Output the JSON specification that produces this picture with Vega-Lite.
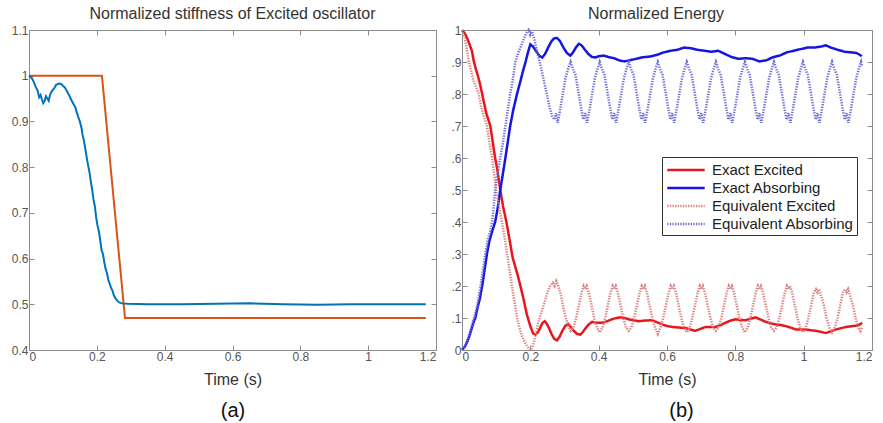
{
"$schema": "https://vega.github.io/schema/vega-lite/v6.json",
"background": "white",
"padding": {"left": 10, "top": 5, "right": 5, "bottom": 5},
"bounds": "flush",
"spacing": 26,
"config": {
  "font": "Liberation Sans",
  "view": {"stroke": "#8c8c8c", "strokeWidth": 1},
  "axis": {"grid": false, "domainColor": "#8c8c8c", "tickColor": "#8c8c8c", "tickSize": -5, "labelPadding": 6, "labelColor": "#555555", "labelFontSize": 12, "titleColor": "#333333", "titleFontWeight": "normal", "titleFontSize": 16},
  "title": {"fontWeight": "normal", "fontSize": 16, "color": "#333333"}
},
"datasets": {
"stiff": [
{"s":"target","t":0,"v":1},{"s":"target","t":0.215,"v":1},{"s":"target","t":0.283,"v":0.47},{"s":"target","t":1.17,"v":0.47},
{"s":"actual","t":0,"v":1},{"s":"actual","t":0.008,"v":0.995},{"s":"actual","t":0.015,"v":0.985},{"s":"actual","t":0.02,"v":0.975},{"s":"actual","t":0.025,"v":0.968},{"s":"actual","t":0.03,"v":0.953},{"s":"actual","t":0.034,"v":0.958},{"s":"actual","t":0.038,"v":0.948},{"s":"actual","t":0.042,"v":0.94},{"s":"actual","t":0.046,"v":0.945},{"s":"actual","t":0.05,"v":0.955},{"s":"actual","t":0.054,"v":0.95},{"s":"actual","t":0.058,"v":0.945},{"s":"actual","t":0.062,"v":0.958},{"s":"actual","t":0.068,"v":0.967},{"s":"actual","t":0.074,"v":0.972},{"s":"actual","t":0.08,"v":0.98},{"s":"actual","t":0.088,"v":0.983},{"s":"actual","t":0.095,"v":0.982},{"s":"actual","t":0.1,"v":0.978},{"s":"actual","t":0.106,"v":0.974},{"s":"actual","t":0.112,"v":0.966},{"s":"actual","t":0.118,"v":0.958},{"s":"actual","t":0.124,"v":0.948},{"s":"actual","t":0.13,"v":0.94},{"s":"actual","t":0.136,"v":0.932},{"s":"actual","t":0.14,"v":0.922},{"s":"actual","t":0.145,"v":0.91},{"s":"actual","t":0.15,"v":0.9},{"s":"actual","t":0.155,"v":0.885},{"s":"actual","t":0.158,"v":0.87},{"s":"actual","t":0.162,"v":0.858},{"s":"actual","t":0.166,"v":0.84},{"s":"actual","t":0.17,"v":0.822},{"s":"actual","t":0.174,"v":0.805},{"s":"actual","t":0.178,"v":0.79},{"s":"actual","t":0.182,"v":0.77},{"s":"actual","t":0.186,"v":0.752},{"s":"actual","t":0.19,"v":0.73},{"s":"actual","t":0.194,"v":0.715},{"s":"actual","t":0.198,"v":0.69},{"s":"actual","t":0.202,"v":0.672},{"s":"actual","t":0.206,"v":0.66},{"s":"actual","t":0.21,"v":0.64},{"s":"actual","t":0.214,"v":0.618},{"s":"actual","t":0.218,"v":0.61},{"s":"actual","t":0.222,"v":0.592},{"s":"actual","t":0.226,"v":0.577},{"s":"actual","t":0.23,"v":0.568},{"s":"actual","t":0.234,"v":0.553},{"s":"actual","t":0.238,"v":0.545},{"s":"actual","t":0.242,"v":0.536},{"s":"actual","t":0.246,"v":0.53},{"s":"actual","t":0.25,"v":0.52},{"s":"actual","t":0.255,"v":0.513},{"s":"actual","t":0.26,"v":0.508},{"s":"actual","t":0.266,"v":0.504},{"s":"actual","t":0.275,"v":0.502},{"s":"actual","t":0.29,"v":0.501},{"s":"actual","t":0.35,"v":0.5},{"s":"actual","t":0.45,"v":0.5},{"s":"actual","t":0.55,"v":0.501},{"s":"actual","t":0.65,"v":0.502},{"s":"actual","t":0.75,"v":0.5},{"s":"actual","t":0.85,"v":0.499},{"s":"actual","t":0.95,"v":0.5},{"s":"actual","t":1.05,"v":0.5},{"s":"actual","t":1.17,"v":0.5}
],
"energy": [
{"s":"Exact Excited","t":0,"v":1},{"s":"Exact Excited","t":0.008,"v":0.99},{"s":"Exact Excited","t":0.015,"v":0.975},{"s":"Exact Excited","t":0.022,"v":0.955},{"s":"Exact Excited","t":0.029,"v":0.935},{"s":"Exact Excited","t":0.034,"v":0.905},{"s":"Exact Excited","t":0.04,"v":0.88},{"s":"Exact Excited","t":0.047,"v":0.855},{"s":"Exact Excited","t":0.053,"v":0.83},{"s":"Exact Excited","t":0.059,"v":0.8},{"s":"Exact Excited","t":0.065,"v":0.77},{"s":"Exact Excited","t":0.071,"v":0.74},{"s":"Exact Excited","t":0.077,"v":0.72},{"s":"Exact Excited","t":0.083,"v":0.7},{"s":"Exact Excited","t":0.09,"v":0.65},{"s":"Exact Excited","t":0.097,"v":0.6},{"s":"Exact Excited","t":0.104,"v":0.56},{"s":"Exact Excited","t":0.112,"v":0.5},{"s":"Exact Excited","t":0.12,"v":0.45},{"s":"Exact Excited","t":0.13,"v":0.4},{"s":"Exact Excited","t":0.14,"v":0.34},{"s":"Exact Excited","t":0.148,"v":0.29},{"s":"Exact Excited","t":0.156,"v":0.26},{"s":"Exact Excited","t":0.164,"v":0.23},{"s":"Exact Excited","t":0.171,"v":0.2},{"s":"Exact Excited","t":0.18,"v":0.16},{"s":"Exact Excited","t":0.19,"v":0.11},{"s":"Exact Excited","t":0.2,"v":0.075},{"s":"Exact Excited","t":0.208,"v":0.052},{"s":"Exact Excited","t":0.215,"v":0.048},{"s":"Exact Excited","t":0.222,"v":0.055},{"s":"Exact Excited","t":0.229,"v":0.07},{"s":"Exact Excited","t":0.236,"v":0.085},{"s":"Exact Excited","t":0.242,"v":0.09},{"s":"Exact Excited","t":0.248,"v":0.082},{"s":"Exact Excited","t":0.254,"v":0.07},{"s":"Exact Excited","t":0.262,"v":0.05},{"s":"Exact Excited","t":0.27,"v":0.035},{"s":"Exact Excited","t":0.278,"v":0.03},{"s":"Exact Excited","t":0.285,"v":0.04},{"s":"Exact Excited","t":0.293,"v":0.058},{"s":"Exact Excited","t":0.302,"v":0.075},{"s":"Exact Excited","t":0.31,"v":0.082},{"s":"Exact Excited","t":0.318,"v":0.072},{"s":"Exact Excited","t":0.327,"v":0.06},{"s":"Exact Excited","t":0.337,"v":0.05},{"s":"Exact Excited","t":0.347,"v":0.048},{"s":"Exact Excited","t":0.355,"v":0.058},{"s":"Exact Excited","t":0.363,"v":0.07},{"s":"Exact Excited","t":0.371,"v":0.08},{"s":"Exact Excited","t":0.381,"v":0.088},{"s":"Exact Excited","t":0.395,"v":0.085},{"s":"Exact Excited","t":0.41,"v":0.085},{"s":"Exact Excited","t":0.425,"v":0.09},{"s":"Exact Excited","t":0.439,"v":0.096},{"s":"Exact Excited","t":0.452,"v":0.1},{"s":"Exact Excited","t":0.464,"v":0.102},{"s":"Exact Excited","t":0.476,"v":0.1},{"s":"Exact Excited","t":0.488,"v":0.096},{"s":"Exact Excited","t":0.502,"v":0.093},{"s":"Exact Excited","t":0.517,"v":0.09},{"s":"Exact Excited","t":0.535,"v":0.092},{"s":"Exact Excited","t":0.556,"v":0.093},{"s":"Exact Excited","t":0.57,"v":0.087},{"s":"Exact Excited","t":0.586,"v":0.08},{"s":"Exact Excited","t":0.6,"v":0.075},{"s":"Exact Excited","t":0.615,"v":0.072},{"s":"Exact Excited","t":0.635,"v":0.07},{"s":"Exact Excited","t":0.654,"v":0.069},{"s":"Exact Excited","t":0.668,"v":0.064},{"s":"Exact Excited","t":0.683,"v":0.06},{"s":"Exact Excited","t":0.698,"v":0.066},{"s":"Exact Excited","t":0.713,"v":0.072},{"s":"Exact Excited","t":0.728,"v":0.072},{"s":"Exact Excited","t":0.742,"v":0.072},{"s":"Exact Excited","t":0.757,"v":0.078},{"s":"Exact Excited","t":0.771,"v":0.085},{"s":"Exact Excited","t":0.786,"v":0.092},{"s":"Exact Excited","t":0.801,"v":0.096},{"s":"Exact Excited","t":0.815,"v":0.094},{"s":"Exact Excited","t":0.83,"v":0.093},{"s":"Exact Excited","t":0.845,"v":0.098},{"s":"Exact Excited","t":0.859,"v":0.102},{"s":"Exact Excited","t":0.874,"v":0.095},{"s":"Exact Excited","t":0.889,"v":0.088},{"s":"Exact Excited","t":0.904,"v":0.083},{"s":"Exact Excited","t":0.918,"v":0.08},{"s":"Exact Excited","t":0.933,"v":0.078},{"s":"Exact Excited","t":0.947,"v":0.075},{"s":"Exact Excited","t":0.962,"v":0.07},{"s":"Exact Excited","t":0.977,"v":0.064},{"s":"Exact Excited","t":0.992,"v":0.064},{"s":"Exact Excited","t":1.006,"v":0.064},{"s":"Exact Excited","t":1.02,"v":0.062},{"s":"Exact Excited","t":1.035,"v":0.06},{"s":"Exact Excited","t":1.05,"v":0.057},{"s":"Exact Excited","t":1.064,"v":0.053},{"s":"Exact Excited","t":1.079,"v":0.058},{"s":"Exact Excited","t":1.094,"v":0.064},{"s":"Exact Excited","t":1.108,"v":0.068},{"s":"Exact Excited","t":1.123,"v":0.072},{"s":"Exact Excited","t":1.138,"v":0.074},{"s":"Exact Excited","t":1.152,"v":0.076},{"s":"Exact Excited","t":1.162,"v":0.078},{"s":"Exact Excited","t":1.171,"v":0.085},
{"s":"Exact Absorbing","t":0,"v":0},{"s":"Exact Absorbing","t":0.008,"v":0.01},{"s":"Exact Absorbing","t":0.015,"v":0.025},{"s":"Exact Absorbing","t":0.022,"v":0.045},{"s":"Exact Absorbing","t":0.029,"v":0.07},{"s":"Exact Absorbing","t":0.035,"v":0.09},{"s":"Exact Absorbing","t":0.039,"v":0.1},{"s":"Exact Absorbing","t":0.045,"v":0.13},{"s":"Exact Absorbing","t":0.052,"v":0.16},{"s":"Exact Absorbing","t":0.059,"v":0.2},{"s":"Exact Absorbing","t":0.066,"v":0.25},{"s":"Exact Absorbing","t":0.073,"v":0.3},{"s":"Exact Absorbing","t":0.08,"v":0.34},{"s":"Exact Absorbing","t":0.088,"v":0.37},{"s":"Exact Absorbing","t":0.097,"v":0.4},{"s":"Exact Absorbing","t":0.104,"v":0.44},{"s":"Exact Absorbing","t":0.112,"v":0.5},{"s":"Exact Absorbing","t":0.118,"v":0.54},{"s":"Exact Absorbing","t":0.127,"v":0.6},{"s":"Exact Absorbing","t":0.134,"v":0.65},{"s":"Exact Absorbing","t":0.141,"v":0.7},{"s":"Exact Absorbing","t":0.15,"v":0.75},{"s":"Exact Absorbing","t":0.161,"v":0.8},{"s":"Exact Absorbing","t":0.171,"v":0.84},{"s":"Exact Absorbing","t":0.178,"v":0.87},{"s":"Exact Absorbing","t":0.186,"v":0.9},{"s":"Exact Absorbing","t":0.193,"v":0.93},{"s":"Exact Absorbing","t":0.2,"v":0.955},{"s":"Exact Absorbing","t":0.208,"v":0.948},{"s":"Exact Absorbing","t":0.218,"v":0.932},{"s":"Exact Absorbing","t":0.226,"v":0.92},{"s":"Exact Absorbing","t":0.235,"v":0.914},{"s":"Exact Absorbing","t":0.243,"v":0.925},{"s":"Exact Absorbing","t":0.252,"v":0.945},{"s":"Exact Absorbing","t":0.262,"v":0.965},{"s":"Exact Absorbing","t":0.27,"v":0.974},{"s":"Exact Absorbing","t":0.278,"v":0.975},{"s":"Exact Absorbing","t":0.287,"v":0.965},{"s":"Exact Absorbing","t":0.297,"v":0.945},{"s":"Exact Absorbing","t":0.307,"v":0.928},{"s":"Exact Absorbing","t":0.317,"v":0.92},{"s":"Exact Absorbing","t":0.325,"v":0.93},{"s":"Exact Absorbing","t":0.333,"v":0.945},{"s":"Exact Absorbing","t":0.342,"v":0.957},{"s":"Exact Absorbing","t":0.35,"v":0.952},{"s":"Exact Absorbing","t":0.36,"v":0.938},{"s":"Exact Absorbing","t":0.37,"v":0.925},{"s":"Exact Absorbing","t":0.38,"v":0.916},{"s":"Exact Absorbing","t":0.39,"v":0.914},{"s":"Exact Absorbing","t":0.4,"v":0.918},{"s":"Exact Absorbing","t":0.415,"v":0.92},{"s":"Exact Absorbing","t":0.43,"v":0.915},{"s":"Exact Absorbing","t":0.445,"v":0.912},{"s":"Exact Absorbing","t":0.46,"v":0.905},{"s":"Exact Absorbing","t":0.475,"v":0.902},{"s":"Exact Absorbing","t":0.49,"v":0.905},{"s":"Exact Absorbing","t":0.51,"v":0.91},{"s":"Exact Absorbing","t":0.53,"v":0.915},{"s":"Exact Absorbing","t":0.55,"v":0.917},{"s":"Exact Absorbing","t":0.57,"v":0.922},{"s":"Exact Absorbing","t":0.59,"v":0.93},{"s":"Exact Absorbing","t":0.61,"v":0.935},{"s":"Exact Absorbing","t":0.63,"v":0.938},{"s":"Exact Absorbing","t":0.65,"v":0.945},{"s":"Exact Absorbing","t":0.67,"v":0.943},{"s":"Exact Absorbing","t":0.69,"v":0.938},{"s":"Exact Absorbing","t":0.71,"v":0.935},{"s":"Exact Absorbing","t":0.73,"v":0.932},{"s":"Exact Absorbing","t":0.75,"v":0.935},{"s":"Exact Absorbing","t":0.77,"v":0.925},{"s":"Exact Absorbing","t":0.79,"v":0.915},{"s":"Exact Absorbing","t":0.81,"v":0.91},{"s":"Exact Absorbing","t":0.83,"v":0.912},{"s":"Exact Absorbing","t":0.85,"v":0.91},{"s":"Exact Absorbing","t":0.87,"v":0.902},{"s":"Exact Absorbing","t":0.89,"v":0.905},{"s":"Exact Absorbing","t":0.91,"v":0.915},{"s":"Exact Absorbing","t":0.93,"v":0.92},{"s":"Exact Absorbing","t":0.95,"v":0.93},{"s":"Exact Absorbing","t":0.97,"v":0.935},{"s":"Exact Absorbing","t":0.99,"v":0.94},{"s":"Exact Absorbing","t":1.01,"v":0.945},{"s":"Exact Absorbing","t":1.03,"v":0.945},{"s":"Exact Absorbing","t":1.05,"v":0.948},{"s":"Exact Absorbing","t":1.065,"v":0.952},{"s":"Exact Absorbing","t":1.08,"v":0.945},{"s":"Exact Absorbing","t":1.1,"v":0.938},{"s":"Exact Absorbing","t":1.12,"v":0.932},{"s":"Exact Absorbing","t":1.14,"v":0.93},{"s":"Exact Absorbing","t":1.155,"v":0.928},{"s":"Exact Absorbing","t":1.165,"v":0.922},{"s":"Exact Absorbing","t":1.17,"v":0.918},
{"s":"Equivalent Excited","t":0,"v":1},{"s":"Equivalent Excited","t":0.008,"v":0.975},{"s":"Equivalent Excited","t":0.014,"v":0.94},{"s":"Equivalent Excited","t":0.02,"v":0.9},{"s":"Equivalent Excited","t":0.027,"v":0.87},{"s":"Equivalent Excited","t":0.034,"v":0.84},{"s":"Equivalent Excited","t":0.042,"v":0.82},{"s":"Equivalent Excited","t":0.049,"v":0.8},{"s":"Equivalent Excited","t":0.056,"v":0.76},{"s":"Equivalent Excited","t":0.064,"v":0.73},{"s":"Equivalent Excited","t":0.073,"v":0.7},{"s":"Equivalent Excited","t":0.08,"v":0.65},{"s":"Equivalent Excited","t":0.088,"v":0.6},{"s":"Equivalent Excited","t":0.094,"v":0.55},{"s":"Equivalent Excited","t":0.1,"v":0.5},{"s":"Equivalent Excited","t":0.108,"v":0.45},{"s":"Equivalent Excited","t":0.117,"v":0.4},{"s":"Equivalent Excited","t":0.125,"v":0.35},{"s":"Equivalent Excited","t":0.132,"v":0.3},{"s":"Equivalent Excited","t":0.139,"v":0.25},{"s":"Equivalent Excited","t":0.146,"v":0.2},{"s":"Equivalent Excited","t":0.154,"v":0.15},{"s":"Equivalent Excited","t":0.161,"v":0.1},{"s":"Equivalent Excited","t":0.168,"v":0.07},{"s":"Equivalent Excited","t":0.175,"v":0.045},{"s":"Equivalent Excited","t":0.186,"v":0.02},{"s":"Equivalent Excited","t":0.195,"v":0.005},{"s":"Equivalent Excited","t":0.2,"v":0},{"s":"Equivalent Excited","t":0.206,"v":0.01},{"s":"Equivalent Excited","t":0.212,"v":0.03},{"s":"Equivalent Excited","t":0.218,"v":0.06},{"s":"Equivalent Excited","t":0.224,"v":0.09},{"s":"Equivalent Excited","t":0.23,"v":0.11},{"s":"Equivalent Excited","t":0.236,"v":0.13},{"s":"Equivalent Excited","t":0.242,"v":0.15},{"s":"Equivalent Excited","t":0.25,"v":0.18},{"s":"Equivalent Excited","t":0.258,"v":0.2},{"s":"Equivalent Excited","t":0.266,"v":0.21},{"s":"Equivalent Excited","t":0.271,"v":0.2},{"s":"Equivalent Excited","t":0.276,"v":0.215},{"s":"Equivalent Excited","t":0.282,"v":0.2},{"s":"Equivalent Excited","t":0.29,"v":0.17},{"s":"Equivalent Excited","t":0.297,"v":0.13},{"s":"Equivalent Excited","t":0.304,"v":0.1},{"s":"Equivalent Excited","t":0.311,"v":0.075},
{"s":"Equivalent Excited","t":0.318,"v":0.06},{"s":"Equivalent Excited","t":0.326,"v":0.07},{"s":"Equivalent Excited","t":0.334,"v":0.1},{"s":"Equivalent Excited","t":0.342,"v":0.14},{"s":"Equivalent Excited","t":0.35,"v":0.18},{"s":"Equivalent Excited","t":0.356,"v":0.2},{"s":"Equivalent Excited","t":0.3605,"v":0.19},{"s":"Equivalent Excited","t":0.365,"v":0.2},{"s":"Equivalent Excited","t":0.371,"v":0.18},{"s":"Equivalent Excited","t":0.379,"v":0.14},{"s":"Equivalent Excited","t":0.387,"v":0.1},{"s":"Equivalent Excited","t":0.395,"v":0.07},
{"s":"Equivalent Excited","t":0.403,"v":0.055},{"s":"Equivalent Excited","t":0.411,"v":0.07},{"s":"Equivalent Excited","t":0.419,"v":0.1},{"s":"Equivalent Excited","t":0.427,"v":0.14},{"s":"Equivalent Excited","t":0.435,"v":0.18},{"s":"Equivalent Excited","t":0.441,"v":0.2},{"s":"Equivalent Excited","t":0.4455,"v":0.19},{"s":"Equivalent Excited","t":0.45,"v":0.2},{"s":"Equivalent Excited","t":0.456,"v":0.18},{"s":"Equivalent Excited","t":0.464,"v":0.14},{"s":"Equivalent Excited","t":0.472,"v":0.1},{"s":"Equivalent Excited","t":0.48,"v":0.07},
{"s":"Equivalent Excited","t":0.488,"v":0.06},{"s":"Equivalent Excited","t":0.496,"v":0.07},{"s":"Equivalent Excited","t":0.504,"v":0.1},{"s":"Equivalent Excited","t":0.512,"v":0.14},{"s":"Equivalent Excited","t":0.52,"v":0.18},{"s":"Equivalent Excited","t":0.526,"v":0.2},{"s":"Equivalent Excited","t":0.5305,"v":0.19},{"s":"Equivalent Excited","t":0.535,"v":0.2},{"s":"Equivalent Excited","t":0.541,"v":0.18},{"s":"Equivalent Excited","t":0.549,"v":0.14},{"s":"Equivalent Excited","t":0.557,"v":0.1},{"s":"Equivalent Excited","t":0.565,"v":0.07},
{"s":"Equivalent Excited","t":0.573,"v":0.05},{"s":"Equivalent Excited","t":0.581,"v":0.07},{"s":"Equivalent Excited","t":0.589,"v":0.1},{"s":"Equivalent Excited","t":0.597,"v":0.14},{"s":"Equivalent Excited","t":0.605,"v":0.18},{"s":"Equivalent Excited","t":0.611,"v":0.2},{"s":"Equivalent Excited","t":0.6155,"v":0.19},{"s":"Equivalent Excited","t":0.62,"v":0.2},{"s":"Equivalent Excited","t":0.626,"v":0.18},{"s":"Equivalent Excited","t":0.634,"v":0.14},{"s":"Equivalent Excited","t":0.642,"v":0.1},{"s":"Equivalent Excited","t":0.65,"v":0.07},
{"s":"Equivalent Excited","t":0.658,"v":0.055},{"s":"Equivalent Excited","t":0.666,"v":0.07},{"s":"Equivalent Excited","t":0.674,"v":0.1},{"s":"Equivalent Excited","t":0.682,"v":0.14},{"s":"Equivalent Excited","t":0.69,"v":0.18},{"s":"Equivalent Excited","t":0.696,"v":0.2},{"s":"Equivalent Excited","t":0.7005,"v":0.19},{"s":"Equivalent Excited","t":0.705,"v":0.2},{"s":"Equivalent Excited","t":0.711,"v":0.18},{"s":"Equivalent Excited","t":0.719,"v":0.14},{"s":"Equivalent Excited","t":0.727,"v":0.1},{"s":"Equivalent Excited","t":0.735,"v":0.07},
{"s":"Equivalent Excited","t":0.743,"v":0.06},{"s":"Equivalent Excited","t":0.751,"v":0.07},{"s":"Equivalent Excited","t":0.759,"v":0.1},{"s":"Equivalent Excited","t":0.767,"v":0.14},{"s":"Equivalent Excited","t":0.775,"v":0.18},{"s":"Equivalent Excited","t":0.781,"v":0.2},{"s":"Equivalent Excited","t":0.7855,"v":0.19},{"s":"Equivalent Excited","t":0.79,"v":0.2},{"s":"Equivalent Excited","t":0.796,"v":0.18},{"s":"Equivalent Excited","t":0.804,"v":0.14},{"s":"Equivalent Excited","t":0.812,"v":0.1},{"s":"Equivalent Excited","t":0.82,"v":0.07},
{"s":"Equivalent Excited","t":0.828,"v":0.055},{"s":"Equivalent Excited","t":0.836,"v":0.07},{"s":"Equivalent Excited","t":0.844,"v":0.1},{"s":"Equivalent Excited","t":0.852,"v":0.14},{"s":"Equivalent Excited","t":0.86,"v":0.18},{"s":"Equivalent Excited","t":0.866,"v":0.2},{"s":"Equivalent Excited","t":0.8705,"v":0.19},{"s":"Equivalent Excited","t":0.875,"v":0.2},{"s":"Equivalent Excited","t":0.881,"v":0.18},{"s":"Equivalent Excited","t":0.889,"v":0.14},{"s":"Equivalent Excited","t":0.897,"v":0.1},{"s":"Equivalent Excited","t":0.905,"v":0.07},
{"s":"Equivalent Excited","t":0.913,"v":0.06},{"s":"Equivalent Excited","t":0.921,"v":0.07},{"s":"Equivalent Excited","t":0.929,"v":0.1},{"s":"Equivalent Excited","t":0.937,"v":0.14},{"s":"Equivalent Excited","t":0.945,"v":0.18},{"s":"Equivalent Excited","t":0.951,"v":0.2},{"s":"Equivalent Excited","t":0.9555,"v":0.19},{"s":"Equivalent Excited","t":0.96,"v":0.2},{"s":"Equivalent Excited","t":0.966,"v":0.18},{"s":"Equivalent Excited","t":0.974,"v":0.14},{"s":"Equivalent Excited","t":0.982,"v":0.1},{"s":"Equivalent Excited","t":0.99,"v":0.07},
{"s":"Equivalent Excited","t":0.998,"v":0.055},{"s":"Equivalent Excited","t":1.006,"v":0.07},{"s":"Equivalent Excited","t":1.014,"v":0.1},{"s":"Equivalent Excited","t":1.022,"v":0.14},{"s":"Equivalent Excited","t":1.03,"v":0.18},{"s":"Equivalent Excited","t":1.036,"v":0.19},{"s":"Equivalent Excited","t":1.0405,"v":0.18},{"s":"Equivalent Excited","t":1.045,"v":0.19},{"s":"Equivalent Excited","t":1.051,"v":0.17},{"s":"Equivalent Excited","t":1.059,"v":0.14},{"s":"Equivalent Excited","t":1.067,"v":0.1},{"s":"Equivalent Excited","t":1.075,"v":0.07},
{"s":"Equivalent Excited","t":1.083,"v":0.055},{"s":"Equivalent Excited","t":1.091,"v":0.07},{"s":"Equivalent Excited","t":1.099,"v":0.1},{"s":"Equivalent Excited","t":1.107,"v":0.14},{"s":"Equivalent Excited","t":1.115,"v":0.18},{"s":"Equivalent Excited","t":1.121,"v":0.19},{"s":"Equivalent Excited","t":1.1255,"v":0.18},{"s":"Equivalent Excited","t":1.13,"v":0.19},{"s":"Equivalent Excited","t":1.136,"v":0.17},{"s":"Equivalent Excited","t":1.144,"v":0.14},{"s":"Equivalent Excited","t":1.152,"v":0.1},{"s":"Equivalent Excited","t":1.16,"v":0.07},{"s":"Equivalent Excited","t":1.166,"v":0.06},{"s":"Equivalent Excited","t":1.17,"v":0.07},
{"s":"Equivalent Absorbing","t":0,"v":0},{"s":"Equivalent Absorbing","t":0.008,"v":0.01},{"s":"Equivalent Absorbing","t":0.015,"v":0.03},{"s":"Equivalent Absorbing","t":0.022,"v":0.05},{"s":"Equivalent Absorbing","t":0.03,"v":0.08},{"s":"Equivalent Absorbing","t":0.038,"v":0.11},{"s":"Equivalent Absorbing","t":0.045,"v":0.14},{"s":"Equivalent Absorbing","t":0.053,"v":0.19},{"s":"Equivalent Absorbing","t":0.06,"v":0.24},{"s":"Equivalent Absorbing","t":0.068,"v":0.3},{"s":"Equivalent Absorbing","t":0.075,"v":0.34},{"s":"Equivalent Absorbing","t":0.082,"v":0.37},{"s":"Equivalent Absorbing","t":0.088,"v":0.4},{"s":"Equivalent Absorbing","t":0.093,"v":0.45},{"s":"Equivalent Absorbing","t":0.097,"v":0.5},{"s":"Equivalent Absorbing","t":0.104,"v":0.55},{"s":"Equivalent Absorbing","t":0.112,"v":0.6},{"s":"Equivalent Absorbing","t":0.12,"v":0.65},{"s":"Equivalent Absorbing","t":0.127,"v":0.7},{"s":"Equivalent Absorbing","t":0.134,"v":0.75},{"s":"Equivalent Absorbing","t":0.141,"v":0.8},{"s":"Equivalent Absorbing","t":0.148,"v":0.84},{"s":"Equivalent Absorbing","t":0.156,"v":0.9},{"s":"Equivalent Absorbing","t":0.165,"v":0.93},{"s":"Equivalent Absorbing","t":0.173,"v":0.95},{"s":"Equivalent Absorbing","t":0.18,"v":0.97},{"s":"Equivalent Absorbing","t":0.188,"v":0.99},{"s":"Equivalent Absorbing","t":0.195,"v":1},{"s":"Equivalent Absorbing","t":0.2,"v":0.985},{"s":"Equivalent Absorbing","t":0.205,"v":0.995},{"s":"Equivalent Absorbing","t":0.212,"v":0.97},{"s":"Equivalent Absorbing","t":0.218,"v":0.94},{"s":"Equivalent Absorbing","t":0.225,"v":0.91},{"s":"Equivalent Absorbing","t":0.232,"v":0.88},{"s":"Equivalent Absorbing","t":0.24,"v":0.84},{"s":"Equivalent Absorbing","t":0.248,"v":0.8},{"s":"Equivalent Absorbing","t":0.256,"v":0.76},{"s":"Equivalent Absorbing","t":0.264,"v":0.73},{"s":"Equivalent Absorbing","t":0.27,"v":0.72},{"s":"Equivalent Absorbing","t":0.275,"v":0.74},{"s":"Equivalent Absorbing","t":0.28,"v":0.71},{"s":"Equivalent Absorbing","t":0.287,"v":0.75},{"s":"Equivalent Absorbing","t":0.295,"v":0.8},{"s":"Equivalent Absorbing","t":0.303,"v":0.85},{"s":"Equivalent Absorbing","t":0.311,"v":0.88},
{"s":"Equivalent Absorbing","t":0.318,"v":0.9},{"s":"Equivalent Absorbing","t":0.324,"v":0.88},{"s":"Equivalent Absorbing","t":0.332,"v":0.86},{"s":"Equivalent Absorbing","t":0.34,"v":0.81},{"s":"Equivalent Absorbing","t":0.348,"v":0.76},{"s":"Equivalent Absorbing","t":0.355,"v":0.72},{"s":"Equivalent Absorbing","t":0.3605,"v":0.74},{"s":"Equivalent Absorbing","t":0.366,"v":0.71},{"s":"Equivalent Absorbing","t":0.373,"v":0.75},{"s":"Equivalent Absorbing","t":0.381,"v":0.8},{"s":"Equivalent Absorbing","t":0.389,"v":0.85},{"s":"Equivalent Absorbing","t":0.397,"v":0.88},
{"s":"Equivalent Absorbing","t":0.403,"v":0.9},{"s":"Equivalent Absorbing","t":0.409,"v":0.88},{"s":"Equivalent Absorbing","t":0.417,"v":0.86},{"s":"Equivalent Absorbing","t":0.425,"v":0.81},{"s":"Equivalent Absorbing","t":0.433,"v":0.76},{"s":"Equivalent Absorbing","t":0.44,"v":0.72},{"s":"Equivalent Absorbing","t":0.4455,"v":0.74},{"s":"Equivalent Absorbing","t":0.451,"v":0.71},{"s":"Equivalent Absorbing","t":0.458,"v":0.75},{"s":"Equivalent Absorbing","t":0.466,"v":0.8},{"s":"Equivalent Absorbing","t":0.474,"v":0.85},{"s":"Equivalent Absorbing","t":0.482,"v":0.88},
{"s":"Equivalent Absorbing","t":0.488,"v":0.9},{"s":"Equivalent Absorbing","t":0.494,"v":0.88},{"s":"Equivalent Absorbing","t":0.502,"v":0.86},{"s":"Equivalent Absorbing","t":0.51,"v":0.81},{"s":"Equivalent Absorbing","t":0.518,"v":0.76},{"s":"Equivalent Absorbing","t":0.525,"v":0.72},{"s":"Equivalent Absorbing","t":0.5305,"v":0.74},{"s":"Equivalent Absorbing","t":0.536,"v":0.71},{"s":"Equivalent Absorbing","t":0.543,"v":0.75},{"s":"Equivalent Absorbing","t":0.551,"v":0.8},{"s":"Equivalent Absorbing","t":0.559,"v":0.85},{"s":"Equivalent Absorbing","t":0.567,"v":0.88},
{"s":"Equivalent Absorbing","t":0.573,"v":0.9},{"s":"Equivalent Absorbing","t":0.579,"v":0.88},{"s":"Equivalent Absorbing","t":0.587,"v":0.86},{"s":"Equivalent Absorbing","t":0.595,"v":0.81},{"s":"Equivalent Absorbing","t":0.603,"v":0.76},{"s":"Equivalent Absorbing","t":0.61,"v":0.72},{"s":"Equivalent Absorbing","t":0.6155,"v":0.74},{"s":"Equivalent Absorbing","t":0.621,"v":0.71},{"s":"Equivalent Absorbing","t":0.628,"v":0.75},{"s":"Equivalent Absorbing","t":0.636,"v":0.8},{"s":"Equivalent Absorbing","t":0.644,"v":0.85},{"s":"Equivalent Absorbing","t":0.652,"v":0.88},
{"s":"Equivalent Absorbing","t":0.658,"v":0.9},{"s":"Equivalent Absorbing","t":0.664,"v":0.88},{"s":"Equivalent Absorbing","t":0.672,"v":0.86},{"s":"Equivalent Absorbing","t":0.68,"v":0.81},{"s":"Equivalent Absorbing","t":0.688,"v":0.76},{"s":"Equivalent Absorbing","t":0.695,"v":0.72},{"s":"Equivalent Absorbing","t":0.7005,"v":0.74},{"s":"Equivalent Absorbing","t":0.706,"v":0.71},{"s":"Equivalent Absorbing","t":0.713,"v":0.75},{"s":"Equivalent Absorbing","t":0.721,"v":0.8},{"s":"Equivalent Absorbing","t":0.729,"v":0.85},{"s":"Equivalent Absorbing","t":0.737,"v":0.88},
{"s":"Equivalent Absorbing","t":0.743,"v":0.9},{"s":"Equivalent Absorbing","t":0.749,"v":0.88},{"s":"Equivalent Absorbing","t":0.757,"v":0.86},{"s":"Equivalent Absorbing","t":0.765,"v":0.81},{"s":"Equivalent Absorbing","t":0.773,"v":0.76},{"s":"Equivalent Absorbing","t":0.78,"v":0.72},{"s":"Equivalent Absorbing","t":0.7855,"v":0.74},{"s":"Equivalent Absorbing","t":0.791,"v":0.71},{"s":"Equivalent Absorbing","t":0.798,"v":0.75},{"s":"Equivalent Absorbing","t":0.806,"v":0.8},{"s":"Equivalent Absorbing","t":0.814,"v":0.85},{"s":"Equivalent Absorbing","t":0.822,"v":0.88},
{"s":"Equivalent Absorbing","t":0.828,"v":0.9},{"s":"Equivalent Absorbing","t":0.834,"v":0.88},{"s":"Equivalent Absorbing","t":0.842,"v":0.86},{"s":"Equivalent Absorbing","t":0.85,"v":0.81},{"s":"Equivalent Absorbing","t":0.858,"v":0.76},{"s":"Equivalent Absorbing","t":0.865,"v":0.72},{"s":"Equivalent Absorbing","t":0.8705,"v":0.74},{"s":"Equivalent Absorbing","t":0.876,"v":0.71},{"s":"Equivalent Absorbing","t":0.883,"v":0.75},{"s":"Equivalent Absorbing","t":0.891,"v":0.8},{"s":"Equivalent Absorbing","t":0.899,"v":0.85},{"s":"Equivalent Absorbing","t":0.907,"v":0.88},
{"s":"Equivalent Absorbing","t":0.913,"v":0.9},{"s":"Equivalent Absorbing","t":0.919,"v":0.88},{"s":"Equivalent Absorbing","t":0.927,"v":0.86},{"s":"Equivalent Absorbing","t":0.935,"v":0.81},{"s":"Equivalent Absorbing","t":0.943,"v":0.76},{"s":"Equivalent Absorbing","t":0.95,"v":0.72},{"s":"Equivalent Absorbing","t":0.9555,"v":0.74},{"s":"Equivalent Absorbing","t":0.961,"v":0.71},{"s":"Equivalent Absorbing","t":0.968,"v":0.75},{"s":"Equivalent Absorbing","t":0.976,"v":0.8},{"s":"Equivalent Absorbing","t":0.984,"v":0.85},{"s":"Equivalent Absorbing","t":0.992,"v":0.88},
{"s":"Equivalent Absorbing","t":0.998,"v":0.9},{"s":"Equivalent Absorbing","t":1.004,"v":0.88},{"s":"Equivalent Absorbing","t":1.012,"v":0.86},{"s":"Equivalent Absorbing","t":1.02,"v":0.81},{"s":"Equivalent Absorbing","t":1.028,"v":0.76},{"s":"Equivalent Absorbing","t":1.035,"v":0.72},{"s":"Equivalent Absorbing","t":1.0405,"v":0.74},{"s":"Equivalent Absorbing","t":1.046,"v":0.71},{"s":"Equivalent Absorbing","t":1.053,"v":0.75},{"s":"Equivalent Absorbing","t":1.061,"v":0.8},{"s":"Equivalent Absorbing","t":1.069,"v":0.85},{"s":"Equivalent Absorbing","t":1.077,"v":0.88},
{"s":"Equivalent Absorbing","t":1.083,"v":0.9},{"s":"Equivalent Absorbing","t":1.089,"v":0.88},{"s":"Equivalent Absorbing","t":1.097,"v":0.86},{"s":"Equivalent Absorbing","t":1.105,"v":0.81},{"s":"Equivalent Absorbing","t":1.113,"v":0.76},{"s":"Equivalent Absorbing","t":1.12,"v":0.72},{"s":"Equivalent Absorbing","t":1.1255,"v":0.74},{"s":"Equivalent Absorbing","t":1.131,"v":0.71},{"s":"Equivalent Absorbing","t":1.138,"v":0.75},{"s":"Equivalent Absorbing","t":1.146,"v":0.8},{"s":"Equivalent Absorbing","t":1.154,"v":0.85},{"s":"Equivalent Absorbing","t":1.162,"v":0.88},{"s":"Equivalent Absorbing","t":1.168,"v":0.9},{"s":"Equivalent Absorbing","t":1.171,"v":0.885}
]
},
"hconcat": [
{
  "width": 407, "height": 320,
  "data": {"name": "stiff"},
  "title": {"text": "Normalized stiffness of Excited oscillator", "offset": 2},
  "layer": [
    {"transform": [{"filter": "datum.s == 'target'"}],
     "mark": {"type": "line", "color": "#d95319", "strokeWidth": 2},
     "encoding": {
       "x": {"field": "t", "type": "quantitative", "scale": {"domain": [0, 1.2], "nice": false}, "axis": {"orient": "bottom", "values": [0,0.2,0.4,0.6,0.8,1,1.2], "labelExpr": "'' + datum.value", "title": "Time (s)", "titlePadding": 9}},
       "y": {"field": "v", "type": "quantitative", "scale": {"domain": [0.4, 1.1], "nice": false, "zero": false}, "axis": {"orient": "left", "values": [0.4,0.5,0.6,0.7,0.8,0.9,1,1.1], "labelExpr": "'' + datum.value", "title": null}}
     }},
    {"transform": [{"filter": "datum.s == 'actual'"}],
     "mark": {"type": "line", "color": "#0072bd", "strokeWidth": 2},
     "encoding": {
       "x": {"field": "t", "type": "quantitative", "axis": {"orient": "top", "values": [0,0.2,0.4,0.6,0.8,1,1.2], "labels": false, "domain": false, "title": null}},
       "y": {"field": "v", "type": "quantitative", "axis": {"orient": "right", "values": [0.4,0.5,0.6,0.7,0.8,0.9,1,1.1], "labels": false, "domain": false, "title": null}}
     }},
    {"mark": {"type": "line", "opacity": 0},
     "encoding": {
       "x": {"field": "t", "type": "quantitative", "axis": {"orient": "bottom", "labels": false, "ticks": false, "domain": false, "title": "(a)", "titleFontSize": 20, "titleColor": "#111111", "titlePadding": 50}},
       "y": {"field": "v", "type": "quantitative", "axis": null}
     }}
  ],
  "resolve": {"axis": {"x": "independent", "y": "independent"}}
},
{
  "width": 410, "height": 320,
  "data": {"name": "energy"},
  "title": {"text": "Normalized Energy", "offset": 2, "dx": -11},
  "layer": [
    {"mark": {"type": "line"},
     "encoding": {
       "x": {"field": "t", "type": "quantitative", "scale": {"domain": [0, 1.2], "nice": false}, "axis": {"orient": "bottom", "values": [0,0.2,0.4,0.6,0.8,1,1.2], "labelExpr": "'' + datum.value", "title": "Time (s)", "titlePadding": 9}},
       "y": {"field": "v", "type": "quantitative", "scale": {"domain": [0, 1], "nice": false}, "axis": {"orient": "left", "values": [0,0.1,0.2,0.3,0.4,0.5,0.6,0.7,0.8,0.9,1], "labelExpr": "datum.value == 0 ? '0' : datum.value == 1 ? '1' : '.' + round(datum.value * 10)", "title": null}},
       "color": {"field": "s", "type": "nominal", "scale": {"domain": ["Exact Excited", "Exact Absorbing", "Equivalent Excited", "Equivalent Absorbing"], "range": ["#e8161c", "#1616e0", "#de8080", "#6e6ed8"]},
         "legend": {"orient": "none", "legendX": 633, "legendY": 127, "title": null, "strokeColor": "#333333", "fillColor": "white", "padding": 3, "rowPadding": 0, "labelFontSize": 15, "labelColor": "#222222", "symbolType": "M-2.2,0H2.2", "symbolSize": 289, "symbolOffset": 11, "labelOffset": 16}},
       "strokeDash": {"field": "s", "type": "nominal", "scale": {"domain": ["Exact Excited", "Exact Absorbing", "Equivalent Excited", "Equivalent Absorbing"], "range": [[1,0],[1,0],[1.3,1.3],[1.3,1.3]]},
         "legend": {"orient": "none", "legendX": 633, "legendY": 127, "title": null, "strokeColor": "#333333", "fillColor": "white", "padding": 3, "rowPadding": 0, "labelFontSize": 15, "labelColor": "#222222", "symbolType": "M-2.2,0H2.2", "symbolSize": 289, "symbolOffset": 11, "labelOffset": 16}},
       "strokeWidth": {"field": "s", "type": "nominal", "scale": {"domain": ["Exact Excited", "Exact Absorbing", "Equivalent Excited", "Equivalent Absorbing"], "range": [2.5, 2.5, 1.4, 1.4]},
         "legend": {"orient": "none", "legendX": 633, "legendY": 127, "title": null, "strokeColor": "#333333", "fillColor": "white", "padding": 3, "rowPadding": 0, "labelFontSize": 15, "labelColor": "#222222", "symbolType": "M-2.2,0H2.2", "symbolSize": 289, "symbolOffset": 11, "labelOffset": 16}}
     }},
    {"mark": {"type": "line", "opacity": 0},
     "encoding": {
       "x": {"field": "t", "type": "quantitative", "axis": {"orient": "top", "values": [0,0.2,0.4,0.6,0.8,1,1.2], "labels": false, "domain": false, "title": null}},
       "y": {"field": "v", "type": "quantitative", "axis": {"orient": "right", "values": [0,0.1,0.2,0.3,0.4,0.5,0.6,0.7,0.8,0.9,1], "labels": false, "domain": false, "title": null}}
     }},
    {"mark": {"type": "line", "opacity": 0},
     "encoding": {
       "x": {"field": "t", "type": "quantitative", "axis": {"orient": "bottom", "labels": false, "ticks": false, "domain": false, "title": "(b)", "titleFontSize": 20, "titleColor": "#111111", "titlePadding": 50, "titleX": 219}},
       "y": {"field": "v", "type": "quantitative", "axis": null}
     }}
  ],
  "resolve": {"axis": {"x": "independent", "y": "independent"}}
}
]
}
